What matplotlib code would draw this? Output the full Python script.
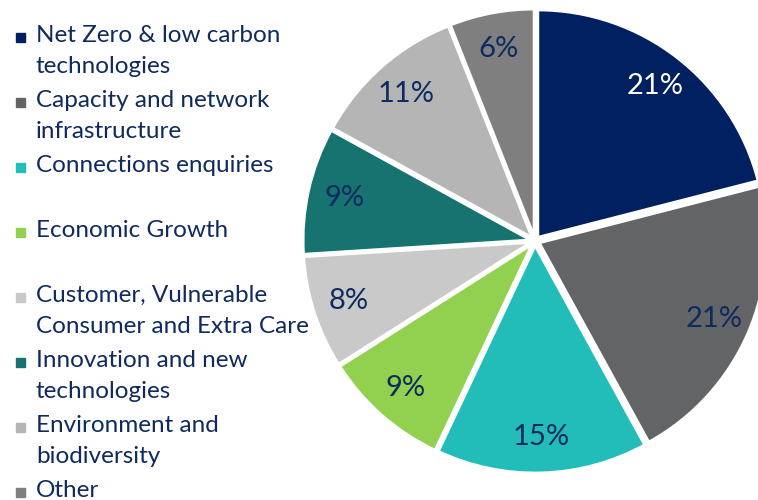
import matplotlib.pyplot as plt

plt.rcParams['font.family'] = ['Lato', 'DejaVu Sans']

# Share of responses by theme
categories = ['Net Zero & low carbon\ntechnologies',
              'Capacity and network\ninfrastructure',
              'Connections enquiries',
              'Economic Growth',
              'Customer, Vulnerable\nConsumer and Extra Care',
              'Innovation and new\ntechnologies',
              'Environment and\nbiodiversity',
              'Other']
shares = [21, 21, 15, 9, 8, 9, 11, 6]
colors = ['#002060', '#636466', '#22BDB9', '#92D050',
          '#C9C9C9', '#167370', '#B5B5B5', '#7F7F7F']
text_navy = '#0E2A5E'

fig = plt.figure(figsize=(7.58, 5.0), dpi=100)

# pie axes: centre ~ (535, 241) px, radius ~ 232 px
ax = fig.add_axes([303 / 758, 27 / 500, 464 / 758, 464 / 500])
wedges, texts = ax.pie(shares, colors=colors, startangle=90, counterclock=False,
                       radius=0.98, explode=[0.02] * len(shares),
                       labels=[f'{v}%' for v in shares], labeldistance=0.84,
                       wedgeprops=dict(edgecolor='white', linewidth=2),
                       textprops=dict(color=text_navy, fontsize=21,
                                      ha='center', va='center'))
texts[0].set_color('white')
ax.set_aspect('equal')
ax.set_xlim(-1, 1)
ax.set_ylim(-1, 1)
ax.axis('off')

# hand-placed legend on the left, each entry gets two lines of space
for i, (name, col) in enumerate(zip(categories, colors)):
    y = 1 - (37 + 65 * i) / 500
    fig.patches.append(plt.Rectangle((16 / 758, y - 5 / 500), 9 / 758, 9 / 500,
                                     transform=fig.transFigure, color=col,
                                     figure=fig))
    fig.text(36 / 758, y + 12 / 500, name, color=text_navy, fontsize=17.5,
             ha='left', va='top', linespacing=1.6)

fig.savefig('out.png', dpi=100)
